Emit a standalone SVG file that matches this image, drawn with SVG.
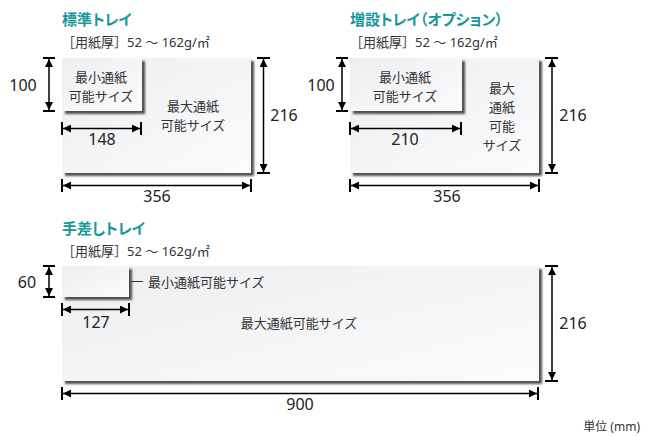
<svg xmlns="http://www.w3.org/2000/svg" width="646" height="436" viewBox="0 0 646 436">
<defs>
<linearGradient id="paper" x1="0" y1="0" x2="1" y2="1">
<stop offset="0" stop-color="#eceef0"/>
<stop offset="1" stop-color="#fbfbfc"/>
</linearGradient>
<filter id="sh" x="-10%" y="-10%" width="130%" height="140%">
<feDropShadow dx="3" dy="3" stdDeviation="1.3" flood-color="#333" flood-opacity="0.85"/>
</filter>
<marker id="ar" viewBox="0 0 10 10" refX="10" refY="5" markerWidth="8" markerHeight="8" markerUnits="userSpaceOnUse" orient="auto-start-reverse">
<path d="M0,0 L10,5 L0,10 Z" fill="#000"/>
</marker>
</defs>
<style>
.title{font-family:"Noto Sans CJK JP","Noto Sans",sans-serif;font-size:15px;font-weight:bold;fill:#17979a;font-feature-settings:"palt"}
.sub{font-family:"Noto Sans","Noto Sans CJK JP",sans-serif;font-size:13px;fill:#333}
.lbl{font-family:"Noto Sans CJK JP","Noto Sans",sans-serif;font-size:13px;fill:#333;text-anchor:middle}
.num{font-family:"Noto Sans","Noto Sans CJK JP",sans-serif;font-size:16px;fill:#222;text-anchor:middle}
.paper{fill:url(#paper);filter:url(#sh)}
.dim{stroke:#000;stroke-width:1.5;fill:none;marker-start:url(#ar);marker-end:url(#ar)}
.tick{stroke:#000;stroke-width:2;fill:none}
.unit{font-family:"Noto Sans","Noto Sans CJK JP",sans-serif;font-size:12px;fill:#333;text-anchor:end}
</style>

<g id="tray-standard">
<text class="title" x="62" y="25">標準トレイ</text>
<text class="sub" x="62" y="47">［用紙厚］52 ～ 162g/㎡</text>
<rect class="paper" x="62" y="58" width="189" height="115"/>
<rect class="paper" x="62" y="58" width="80" height="53"/>
<text class="lbl" x="101" y="82">最小通紙</text>
<text class="lbl" x="101" y="101">可能サイズ</text>
<text class="lbl" x="193" y="111">最大通紙</text>
<text class="lbl" x="193" y="130">可能サイズ</text>
</g>

<g id="tray-option">
<text class="title" x="350" y="25">増設トレイ（オプション）</text>
<text class="sub" x="350" y="47">［用紙厚］52 ～ 162g/㎡</text>
<rect class="paper" x="350" y="58" width="189" height="115"/>
<rect class="paper" x="350" y="58" width="112" height="53"/>
<text class="lbl" x="405" y="82">最小通紙</text>
<text class="lbl" x="405" y="101">可能サイズ</text>
<text class="lbl" x="502" y="93">最大</text>
<text class="lbl" x="502" y="112">通紙</text>
<text class="lbl" x="502" y="131">可能</text>
<text class="lbl" x="502" y="150">サイズ</text>
</g>

<g id="tray-manual">
<text class="title" x="62" y="234">手差しトレイ</text>
<text class="sub" x="62" y="256">［用紙厚］52 ～ 162g/㎡</text>
<rect class="paper" x="62" y="266" width="477" height="115"/>
<rect class="paper" x="62" y="266" width="67" height="31"/>
<text class="lbl" x="148" y="287" style="text-anchor:start">最小通紙可能サイズ</text>
<text class="lbl" x="299" y="328">最大通紙可能サイズ</text>
</g>

<g id="connectors">
<path class="tick" d="M43,58H55M43,111H55"/>
<line class="dim" x1="49" y1="59" x2="49" y2="110"/>
<text class="num" x="23" y="91">100</text>
<path class="tick" d="M62,122V135M141,122V135"/>
<line class="dim" x1="63" y1="128.5" x2="140" y2="128.5"/>
<text class="num" x="102" y="145">148</text>
<path class="tick" d="M257,58H270M257,173H270"/>
<line class="dim" x1="263.5" y1="59" x2="263.5" y2="172"/>
<text class="num" x="284" y="121">216</text>
<path class="tick" d="M62,179V192M251,179V192"/>
<line class="dim" x1="63" y1="185.5" x2="250" y2="185.5"/>
<text class="num" x="157" y="202">356</text>
<path class="tick" d="M336,58H348M336,111H348"/>
<line class="dim" x1="342" y1="59" x2="342" y2="110"/>
<text class="num" x="321" y="91">100</text>
<path class="tick" d="M350,122V135M461,122V135"/>
<line class="dim" x1="351" y1="128.5" x2="460" y2="128.5"/>
<text class="num" x="405" y="145">210</text>
<path class="tick" d="M545,58H558M545,173H558"/>
<line class="dim" x1="552" y1="59" x2="552" y2="172"/>
<text class="num" x="573" y="121">216</text>
<path class="tick" d="M350,179V192M539,179V192"/>
<line class="dim" x1="351" y1="185.5" x2="538" y2="185.5"/>
<text class="num" x="447" y="202">356</text>
<path class="tick" d="M43,266H55M43,297H55"/>
<line class="dim" x1="49" y1="267" x2="49" y2="296"/>
<text class="num" x="27" y="288">60</text>
<line x1="131" y1="281.5" x2="143" y2="281.5" stroke="#333" stroke-width="1"/>
<path class="tick" d="M62,303V316M129,303V316"/>
<line class="dim" x1="63" y1="309.5" x2="128" y2="309.5"/>
<text class="num" x="96" y="328">127</text>
<path class="tick" d="M545,266H558M545,381H558"/>
<line class="dim" x1="552" y1="267" x2="552" y2="380"/>
<text class="num" x="573" y="329">216</text>
<path class="tick" d="M62,387V400M538,387V400"/>
<line class="dim" x1="63" y1="393.5" x2="537" y2="393.5"/>
<text class="num" x="300" y="410">900</text>
</g>
<text class="unit" x="640" y="431">単位 (mm)</text>
</svg>
